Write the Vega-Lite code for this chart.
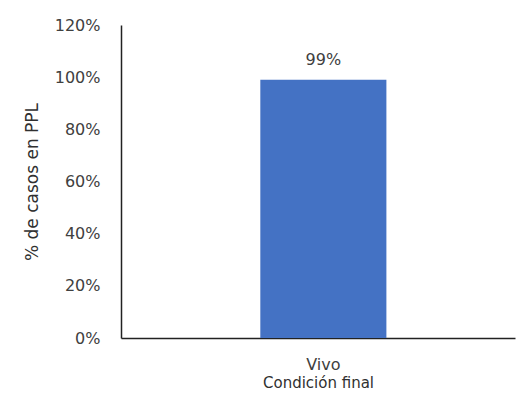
{
  "$schema": "https://vega.github.io/schema/vega-lite/v6.json",
  "width": 394,
  "height": 313,
  "autosize": {"type": "none"},
  "padding": {"left": 121, "top": 25, "right": 17, "bottom": 61},
  "background": "white",
  "config": {
    "view": {"stroke": null},
    "font": "DejaVu Sans",
    "axis": {"labelFont": "DejaVu Sans", "titleFont": "DejaVu Sans", "labelColor": "#404040", "titleColor": "#303030", "titleFontWeight": "normal", "labelFontSize": 16, "titleFontSize": 16}
  },
  "data": {"values": [{"condicion": "Vivo", "pct": 0.99}]},
  "encoding": {
    "x": {"field": "condicion", "type": "nominal", "title": "Condición final",
      "scale": {"paddingInner": 0.68, "paddingOuter": 0.34, "align": 0.52},
      "axis": {"labelAngle": 0, "ticks": false, "domainColor": "#222222", "domainWidth": 1.5, "labelPadding": 18, "titlePadding": 3, "titleFontSize": 15}},
    "y": {"field": "pct", "type": "quantitative", "title": "% de casos en PPL",
      "scale": {"domain": [0, 1.2]},
      "axis": {"values": [0, 0.2, 0.4, 0.6, 0.8, 1.0, 1.2], "format": ".0%", "grid": false, "ticks": false, "domainColor": "#222222", "domainWidth": 1.5, "labelPadding": 21, "titlePadding": 13, "titleFontSize": 17}}
  },
  "layer": [
    {"mark": {"type": "bar", "color": "#4472C4"}},
    {"mark": {"type": "text", "dy": -12, "baseline": "bottom", "fontSize": 16, "color": "#404040", "font": "DejaVu Sans"},
     "encoding": {"text": {"field": "pct", "type": "quantitative", "format": ".0%"}}}
  ]
}
